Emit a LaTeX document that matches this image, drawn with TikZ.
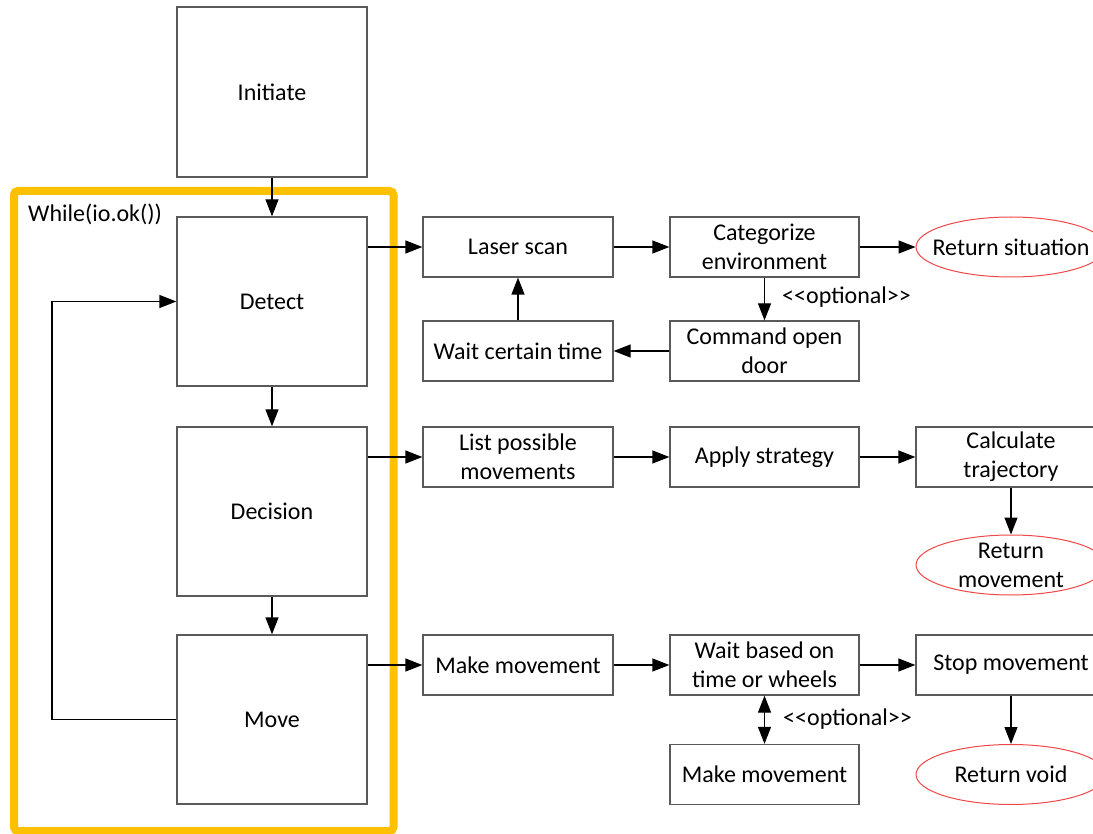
\documentclass[tikz,border=0pt]{standalone}
\usepackage{fontspec}
\setmainfont{Carlito}
\usetikzlibrary{arrows.meta,shapes.geometric}
\definecolor{boxgray}{HTML}{5A5A5A}
\definecolor{frameorange}{HTML}{FFC000}
\definecolor{ellred}{HTML}{F04848}
\begin{document}
\begin{tikzpicture}[x=1pt,y=-1pt,
  every node/.style={font=\fontsize{24}{29}\selectfont, text=black},
  box/.style={draw=boxgray, line width=1.3pt, minimum width=190pt, minimum height=60pt, inner sep=0pt, align=center},
  bigbox/.style={box, minimum height=169pt},
  ret/.style={ellipse, draw=ellred, line width=1pt, minimum width=190pt, minimum height=60pt, inner xsep=-20pt, inner ysep=-10pt, align=center},
  arr/.style={line width=1.3pt, draw=black, -{Triangle[length=17pt,width=13pt]}},
  darr/.style={line width=1.3pt, draw=black, {Triangle[length=17pt,width=13pt]}-{Triangle[length=17pt,width=13pt]}},
  lbl/.style={anchor=base west, inner sep=0pt}
]
\clip (0,0) rectangle (1093,834);
\fill[white] (0,0) rectangle (1093,834);
% loop frame
\draw[frameorange, line width=8pt, rounded corners=4pt] (14,191) rectangle (393.5,831);
\node[lbl] (while) at (28,222) {While(io.ok())};
% left column
\node[box, minimum height=170pt] (init) at (272,92) {Initiate};
\node[bigbox] (detect) at (272,301.5) {Detect};
\node[bigbox] (decision) at (272,511.5) {Decision};
\node[bigbox] (move) at (272,719.5) {Move};
% detect row
\node[box] (laser) at (518,247) {Laser scan};
\node[box, minimum width=189pt] (categ) at (764.5,247) {Categorize\\environment};
\node[ret] (retsit) at (1011,247) {Return situation};
\node[box, minimum width=189pt] (cmd) at (764.5,351) {Command open\\door};
\node[box] (wait) at (518,351) {Wait certain time};
% decision row
\node[box] (list) at (518,457) {List possible\\movements};
\node[box, minimum width=189pt] (apply) at (764.5,457) {Apply strategy};
\node[box] (calc) at (1011,457) {Calculate\\trajectory};
\node[ret] (retmov) at (1011,565) {Return\\movement};
% move row
\node[box] (make) at (518,665) {Make movement};
\node[box, minimum width=189pt] (waitb) at (764.5,665) {Wait based on\\time or wheels};
\node[box] (stop) at (1011,665) {Stop movement};
\node[box, minimum width=189pt] (make2) at (764.5,774.5) {Make movement};
\node[ret] (retvoid) at (1011,774.5) {Return void};
% labels
\node[lbl] (opt1) at (782,304) {<\kern0pt<optional>\kern0pt>};
\node[lbl] (opt2) at (783,725) {<\kern0pt<optional>\kern0pt>};
% connectors
\draw[arr] (init) -- (detect);
\draw[arr] (detect) -- (decision);
\draw[arr] (decision) -- (move);
\coordinate (lp) at (52,0);
\draw[line width=1.3pt, -{Triangle[length=17pt,width=13pt]}] (move.west) -- (move.west -| lp) |- (detect.west);
\draw[arr] (detect.east |- laser.west) -- (laser.west);
\draw[arr] (laser) -- (categ);
\draw[arr] (categ) -- (retsit);
\draw[arr] (categ) -- (cmd);
\draw[arr] (cmd) -- (wait);
\draw[arr] (wait) -- (laser);
\draw[arr] (decision.east |- list.west) -- (list.west);
\draw[arr] (list) -- (apply);
\draw[arr] (apply) -- (calc);
\draw[arr] (calc) -- (retmov);
\draw[arr] (move.east |- make.west) -- (make.west);
\draw[arr] (make) -- (waitb);
\draw[arr] (waitb) -- (stop);
\draw[arr] (stop) -- (retvoid);
\draw[darr] (waitb) -- (make2);
\end{tikzpicture}
\end{document}
